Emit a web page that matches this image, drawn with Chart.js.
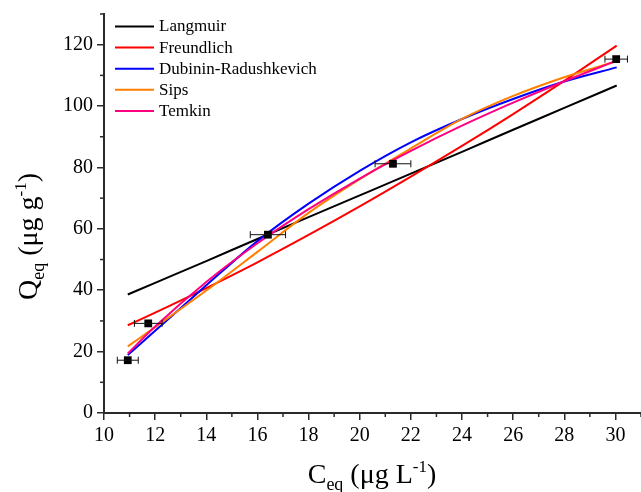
<!DOCTYPE html>
<html><head><meta charset="utf-8">
<script src="https://cdn.jsdelivr.net/npm/chart.js@4.4.1/dist/chart.umd.min.js"></script>
<style>html,body{margin:0;padding:0;background:#fff;overflow:hidden}#wrap{width:641px;height:492px;position:relative}</style>
</head><body><div id="wrap"><canvas id="c" width="641" height="492"></canvas></div>
<script>
// ---- data ----
const expX = [10.93, 11.73, 16.41, 21.30, 30.03];
const expY = [17.2, 29.2, 58.1, 81.2, 115.3];
const expXErr = [0.41, 0.54, 0.69, 0.70, 0.44];
const fitX = [10.93, 12, 14, 16, 18, 20, 22, 24, 26, 28, 30.05];
const langmuir   = [38.6, 42.4, 49.5, 56.7, 63.8, 70.9, 78.0, 85.1, 92.3, 99.4, 106.7];
const freundlich = [28.6, 32.7, 40.7, 49.1, 58.0, 67.3, 77.0, 87.0, 97.4, 108.2, 119.7];
const dubinin    = [18.9, 26.8, 41.6, 56.0, 68.2, 78.9, 88.2, 95.8, 102.3, 108.0, 112.6];
const sips       = [21.7, 28.0, 39.9, 52.5, 65.2, 76.2, 86.2, 95.8, 103.3, 109.4, 114.6];
const temkin     = [19.4, 28.2, 42.7, 55.3, 66.4, 76.4, 85.4, 93.6, 101.1, 108.1, 114.8];
const seriesNames = ['Langmuir', 'Freundlich', 'Dubinin-Radushkevich', 'Sips', 'Temkin'];
const seriesColors = ['#000000', '#ff0000', '#0000ff', '#ff8000', '#ff0080'];
const xTicks = [10, 12, 14, 16, 18, 20, 22, 24, 26, 28, 30];
const xMinor = [11, 13, 15, 17, 19, 21, 23, 25, 27, 29, 31];
const yTicks = [0, 20, 40, 60, 80, 100, 120];
const yMinor = [10, 30, 50, 70, 90, 110, 130];

const SERIF = '"Liberation Serif", "Times New Roman", serif';
const AXIS = '#2a2a2a';

const fits = [langmuir, freundlich, dubinin, sips, temkin];
const datasets = [{
  type: 'scatter', label: 'data',
  data: expX.map((x, i) => ({x, y: expY[i]})),
  pointStyle: 'rect', pointRadius: 5.5, backgroundColor: '#000', borderColor: '#000', borderWidth: 0,
  order: 0
}];
fits.forEach((arr, k) => {
  datasets.push({
    type: 'line', label: seriesNames[k],
    data: fitX.map((x, i) => ({x, y: arr[i]})),
    borderColor: seriesColors[k], borderWidth: 2, pointRadius: 0, fill: false,
    cubicInterpolationMode: 'monotone', order: 5 - k
  });
});

const extras = {
  id: 'extras',
  afterDatasetsDraw(chart) {
    const ctx = chart.ctx, xs = chart.scales.x, ys = chart.scales.y;
    ctx.save();
    // error bars
    ctx.strokeStyle = '#111'; ctx.lineWidth = 1;
    expX.forEach((x, i) => {
      const y = ys.getPixelForValue(expY[i]);
      const x0 = xs.getPixelForValue(x - expXErr[i]), x1 = xs.getPixelForValue(x + expXErr[i]);
      ctx.beginPath();
      ctx.moveTo(x0, y); ctx.lineTo(x1, y);
      ctx.moveTo(x0, y - 3.5); ctx.lineTo(x0, y + 3.5);
      ctx.moveTo(x1, y - 3.5); ctx.lineTo(x1, y + 3.5);
      ctx.stroke();
    });
    ctx.restore();
  },
  afterDraw(chart) {
    const ctx = chart.ctx, xs = chart.scales.x, ys = chart.scales.y, ca = chart.chartArea;
    ctx.save();
    // minor ticks
    ctx.strokeStyle = AXIS; ctx.lineWidth = 1.5;
    xMinor.forEach(v => { const p = xs.getPixelForValue(v); ctx.beginPath(); ctx.moveTo(p, ca.bottom); ctx.lineTo(p, ca.bottom + 4); ctx.stroke(); });
    yMinor.forEach(v => { const p = ys.getPixelForValue(v); ctx.beginPath(); ctx.moveTo(ca.left, p); ctx.lineTo(ca.left - 4, p); ctx.stroke(); });
    // legend
    ctx.font = '17px ' + SERIF; ctx.textBaseline = 'middle'; ctx.textAlign = 'left'; ctx.fillStyle = '#000';
    seriesNames.forEach((n, k) => {
      const y = 26.5 + k * 21.1;
      ctx.strokeStyle = seriesColors[k]; ctx.lineWidth = 2;
      ctx.beginPath(); ctx.moveTo(115, y); ctx.lineTo(154, y); ctx.stroke();
      ctx.fillText(n, 159, y + 0.5);
    });
    // axis titles with sub/superscripts
    function rich(parts) {
      let w = 0;
      parts.forEach(p => { ctx.font = p.size + 'px ' + SERIF; p.w = ctx.measureText(p.t).width; w += p.w; });
      return w;
    }
    function drawRich(parts, cx, baseY) {
      const w = rich(parts);
      let x = cx - w / 2;
      ctx.textBaseline = 'alphabetic'; ctx.textAlign = 'left'; ctx.fillStyle = '#000';
      parts.forEach(p => { ctx.font = p.size + 'px ' + SERIF; ctx.fillText(p.t, x, baseY + p.dy); x += p.w; });
    }
    const xt = [{t: 'C', size: 28, dy: 0}, {t: 'eq', size: 18, dy: 7}, {t: ' (\u03bcg L', size: 28, dy: 0}, {t: '-1', size: 17, dy: -11}, {t: ')', size: 28, dy: 0}];
    drawRich(xt, 372, 483);
    const yt = [{t: 'Q', size: 28, dy: 0}, {t: 'eq', size: 18, dy: 7}, {t: ' (\u03bcg g', size: 28, dy: 0}, {t: '-1', size: 17, dy: -11}, {t: ')', size: 28, dy: 0}];
    ctx.translate(37, 236.5); ctx.rotate(-Math.PI / 2);
    drawRich(yt, 0, 0);
    ctx.restore();
  }
};

new Chart(document.getElementById('c'), {
  data: {datasets},
  options: {
    responsive: false, animation: false,
    layout: {autoPadding: false, padding: {top: 14, right: 0, left: 0, bottom: 0}},
    plugins: {legend: {display: false}, tooltip: {enabled: false}},
    scales: {
      x: {
        type: 'linear', min: 10, max: 31,
        afterBuildTicks(s) { s.ticks = xTicks.map(v => ({value: v})); },
        afterFit(s) { s.height = 79; s.paddingLeft = 0; s.paddingRight = 0; },
        ticks: {font: {family: SERIF, size: 20}, color: '#000', padding: 4, maxRotation: 0, autoSkip: false},
        grid: {drawOnChartArea: false, drawTicks: true, tickLength: 7, color: AXIS, lineWidth: 1.5},
        border: {display: true, color: AXIS, width: 2},
        title: {display: false}
      },
      y: {
        type: 'linear', min: 0, max: 130,
        afterBuildTicks(s) { s.ticks = yTicks.map(v => ({value: v})); },
        afterFit(s) { s.width = 104; s.paddingTop = 0; s.paddingBottom = 0; },
        ticks: {font: {family: SERIF, size: 20}, color: '#000', padding: 4, autoSkip: false},
        grid: {drawOnChartArea: false, drawTicks: true, tickLength: 7, color: AXIS, lineWidth: 1.5},
        border: {display: true, color: AXIS, width: 2},
        title: {display: false}
      }
    }
  },
  plugins: [extras]
});
</script></body></html>
